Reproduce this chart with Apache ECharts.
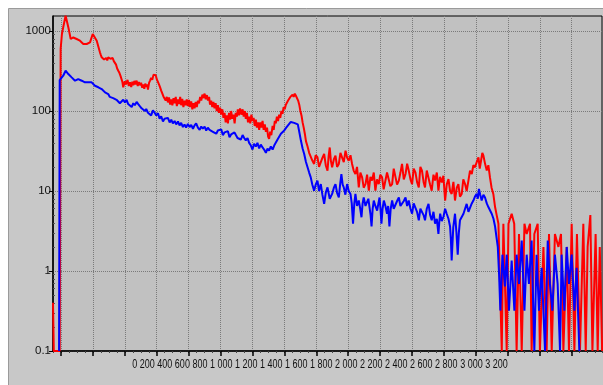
<!DOCTYPE html>
<html>
<head>
<meta charset="utf-8">
<script src="https://cdn.jsdelivr.net/npm/echarts@6/dist/echarts.min.js"></script>
<style>html,body{margin:0;padding:0;background:#fff;}#c{width:603px;height:385px;}</style>
</head>
<body>
<div id="c"></div>
<script>
// ---- data: [channel, counts] ----
const redSpectrum = [
[-50,0.4],[-45,0.1],[-8,0.1],[-2,600],[6,917],[14,1112],[29,1550],[46,1112],[61,794],[77,830],[98,794],[119,757],[140,688],[161,688],[182,721],[199,917],[209,958],[224,757],[244,541],[250,500],[255,469],[262,470],[270,440],[276,426],[283,460],[290,430],[296,469],[303,480],[310,450],[317,469],[324,460],[331,420],[338,406],[345,380],[352,340],[359,319],[366,300],[373,275],[380,263],[385,230],
[390,198],[400,235],[407,215],[417,245],[425,205],[432,228],[440,200],[447,232],[453,210],[460,238],[467,215],[474,240],[481,205],[488,230],[495,210],[502,225],[509,195],[515,215],[522,190],[528,220],[534,200],[540,215],[545,185],[552,225],[558,240],[565,260],[572,245],[580,285],[587,270],[594,280],[600,250],[607,245],[614,215],[620,200],[628,180],[635,170],[642,152],[649,155],[656,135],[663,150],[670,128],[677,148],[684,120],[691,140],[698,118],[705,145],[712,125],[719,150],[726,115],[733,140],[740,122],[747,150],[753,118],[760,142],[767,112],[775,135],[782,118],[788,140],[795,115],[802,138],[809,112],[816,132],[823,105],[830,125],[837,108],[844,130],[851,112],[858,135],[865,125],[872,150],[879,135],[886,160],[893,145],[900,165],[907,140],[914,158],[921,135],[928,150],[934,120],[941,135],[948,112],[955,130],[962,108],[969,125],[976,100],[983,118],[990,95],[997,110],[1004,90],[1011,105],[1018,82],[1025,95],[1032,72],[1039,88],[1046,70],[1053,95],[1060,78],[1066,100],[1073,80],[1081,90],[1088,70],[1095,95],[1102,85],[1108,105],[1115,88],[1122,108],[1130,90],[1138,105],[1145,85],[1152,100],[1158,80],[1165,95],[1172,72],[1179,85],[1186,70],[1193,90],[1200,75],[1207,82],[1214,65],[1221,78],[1228,62],[1235,72],[1242,58],[1249,72],[1256,62],[1263,75],[1270,58],[1277,68],[1284,55],[1291,62],[1298,48],[1304,45],[1311,55],[1318,50],[1326,65],[1333,58],[1340,75],[1346,70],[1353,85],[1360,75],[1367,90],[1374,82],[1381,100],[1388,92],[1395,112],[1402,105],[1409,120],[1416,115],[1423,135],[1430,128],[1437,150],[1444,142],[1451,160],[1458,150],[1465,165],[1472,155],[1479,158],[1486,135],[1493,120],[1500,100],[1507,88],[1514,72],[1521,62],[1528,52],[1535,42],
[1545,36],[1555,30],[1565,29],[1575,24],[1586,21.8],[1596,28],[1607,26.4],[1617,20],[1628,19.8],[1638,26],[1649,29],[1659,21],[1670,18],[1677,27],[1684,35],[1691,24],[1699,19.8],[1710,25],[1720,27.6],[1730,20],[1741,21.8],[1751,30],[1761,29],[1772,23],[1783,31.9],[1793,26],[1803,23.9],[1814,28],[1824,21.8],[1834,18],[1845,16.3],[1855,20],[1866,11.1],[1876,17],[1887,14.8],[1897,11],[1908,12.2],[1918,16],[1929,10.1],[1939,15],[1949,13.5],[1960,17],[1970,10.1],[1980,14],[1991,12.2],[2001,16],[2012,14.8],[2022,10.5],[2033,11.1],[2043,17],[2054,16.3],[2064,11.5],[2075,12.2],[2085,19],[2096,18],[2106,12],[2117,13.5],[2127,17],[2137,21.8],[2148,14],[2159,16.3],[2169,22],[2179,18],[2190,14],[2200,12.2],[2210,19],[2221,17.1],[2231,13],[2242,11.1],[2252,20],[2262,18],[2272,13],[2281,11.1],[2292,18],[2303,17.1],[2313,12],[2323,10.1],[2334,16],[2344,13.5],[2355,17],[2365,10.1],[2375,15],[2386,12.8],[2396,15.5],[2407,7.6],[2417,12],[2428,14.1],[2438,10],[2448,9.2],[2459,13],[2469,7.6],[2480,11],[2490,12.2],[2500,8.5],[2511,9.2],[2521,14],[2532,12.2],[2542,10],[2553,13.5],[2563,18],[2574,16.3],[2584,21],[2594,19.8],[2605,23],[2616,26.4],[2624,19],[2632,23.9],[2640,30],[2647,27.6],[2657,22],[2668,18],[2678,21],[2688,14.8],[2698,11],[2709,9.2],[2720,6.3],[2730,5],[2741,3.9],
[2762,0.1],[2772,3.9],[2793,0.1],[2804,3.9],[2824,5.2],[2840,3.9],[2855,0.1],[2870,2.9],[2887,0.1],[2904,3.9],[2918,2.9],[2939,3.9],[2949,0.1],[2966,2.9],[2987,3.9],[3001,0.1],[3023,2.0],[3043,0.1],[3058,2.9],[3075,0.1],[3095,2.9],[3117,2.0],[3133,2.9],[3148,0.1],[3169,2.0],[3183,0.1],[3200,3.9],[3217,0.1],[3233,2.9],[3252,0.1],[3273,3.9],[3288,0.1],[3300,2.0],[3317,5.0],[3330,0.1],[3350,2.9],[3363,0.1],[3376,2.0],[3391,0.1]
];

const blueSpectrum = [
[-12,0.1],[-8,244],[-6,251],[14,276],[29,319],[46,290],[67,263],[88,239],[108,251],[130,239],[150,228],[171,228],[192,228],[213,207],[234,198],[255,188],[276,171],
[296,163],[306,150],[317,158],[327,145],[338,150],[348,138],[359,143],[369,125],[380,130],[390,138],[401,128],[411,138],[421,122],[432,128],[443,112],[453,125],[463,118],[474,130],[484,122],[494,115],[505,108],[515,113],[526,100],[534,106],[545,95],[555,98],[565,88],[576,102],[587,95],[597,88],[608,94],[618,80],[628,86],[639,74],[649,80],[659,76],[670,82],[681,72],[691,78],[701,70],[712,75],[722,68],[733,74],[743,66],[753,71],[764,63],[774,68],[784,62],[795,69],[806,63],[816,67],[827,60],[837,66],[847,70],[858,62],[869,58],[879,64],[889,60],[900,64],[910,57],[920,62],[931,58],[941,61],[952,55],[962,58],[973,52],[983,57],[994,54],[1004,59],[1014,50],[1025,54],[1035,51],[1046,56],[1056,47],[1066,51],[1077,49],[1087,54],[1096,50],[1106,46],[1117,48],[1127,44],[1138,50],[1148,46],[1158,43],[1169,46],[1179,40],[1190,37],[1200,33],[1210,39],[1221,36],[1231,40],[1242,34],[1252,38],[1263,35],[1273,33],[1284,30],[1294,34],[1304,32],[1315,36],[1326,33],[1336,37],[1346,39],[1357,44],[1367,46],[1378,52],[1388,53],[1399,57],[1409,61],[1420,65],[1430,68],[1440,73],[1451,75],[1461,71],[1472,73],[1484,68],[1493,55],
[1503,43],[1514,34],[1524,29],[1535,23],[1545,19.8],[1555,17],[1565,14.8],[1575,12],[1586,10.1],[1596,12],[1607,13.5],[1617,10],[1628,12.2],[1638,9],[1649,6.9],[1659,9.5],[1670,11.1],[1684,8],[1699,9.2],[1710,11],[1720,12.2],[1730,9.5],[1741,8.3],[1749,12],[1757,16.3],[1765,12],[1772,11.1],[1782,9],[1793,12.2],[1803,10],[1814,9.2],[1822,7],[1830,3.9],[1838,7],[1845,9.2],[1855,6.5],[1866,7.6],[1875,6],[1883,4.7],[1890,7],[1897,8.3],[1908,6.5],[1918,6.3],[1926,8],[1933,7.6],[1940,5],[1946,3.6],[1953,6],[1960,7.6],[1970,6.5],[1981,5.7],[1989,7],[1996,8.3],[2002,6],[2008,3.9],[2015,6],[2023,7.6],[2033,6.5],[2043,5.2],[2050,6.5],[2058,3.6],[2066,6],[2075,7.6],[2085,6],[2096,6.3],[2106,7.5],[2117,8.3],[2127,6.5],[2137,6.3],[2148,7.5],[2159,8.3],[2169,6.5],[2179,7.6],[2190,6],[2200,5.2],[2210,7],[2221,6.9],[2231,5.5],[2242,4.3],[2252,6],[2262,6.3],[2272,5],[2281,4.3],[2292,6],[2303,6.9],[2313,5],[2323,4.3],[2334,5.5],[2344,3.9],[2355,4.5],[2365,2.9],[2370,4],[2376,5.2],[2386,4.2],[2397,4.8],[2407,6],[2417,5.2],[2428,4.5],[2438,3.6],[2443,2.5],[2448,1.35],[2458,3.5],[2469,5.2],[2478,3],[2486,1.6],[2493,3],[2500,4.3],[2511,4.5],[2522,5.2],[2532,6],[2542,6.9],[2553,5.5],[2563,5.7],[2574,7],[2584,7.6],[2594,8.5],[2605,9.2],[2612,8],[2619,10.6],[2627,9],[2636,7.6],[2647,9],[2657,8.3],[2668,7],[2678,6.3],[2688,6],[2699,5.2],[2710,4.5],[2720,3.6],
[2737,2.0],[2745,0.92],[2753,0.32],[2766,1.6],[2782,0.64],[2793,1.6],[2807,0.32],[2824,1.35],[2841,0.32],[2855,1.6],[2870,0.69],[2887,2.4],[2904,0.32],[2918,1.6],[2932,0.69],[2949,2.4],[2966,0.1],[2980,1.6],[2995,0.32],[3012,1.1],[3033,0.1],[3050,2.4],[3064,0.69],[3079,0.32],[3095,1.6],[3112,0.69],[3127,0.1],[3137,1.6],[3154,0.32],[3169,2.0],[3183,0.69],[3200,1.6],[3217,0.32],[3231,1.1],[3248,0.1]
];

// ---- axes ----
const xMajorTicks = [0,200,400,600,800,1000,1200,1400,1600,1800,2000,2200,2400,2600,2800,3000,3200];
const xTickText = '0 200 400 600 800 1 000 1 200 1 400 1 600 1 800 2 000 2 200 2 400 2 600 2 800 3 000 3 200';
const yTicks = [0.1, 1, 10, 100, 1000];
const yMinorTicks = [0.2,0.3,0.4,0.5,0.6,0.7,0.8,0.9,2,3,4,5,6,7,8,9,20,30,40,50,60,70,80,90,200,300,400,500,600,700,800,900];

const chart = echarts.init(document.getElementById('c'), null, {renderer:'canvas'});
const X_MIN = -50, X_MAX = 3390, Y_MIN = 0.1, Y_MAX = 1540;
chart.setOption({
  animation: false,
  backgroundColor: '#ffffff',
  grid: {left:53, right:1, top:16, bottom:34, show:true, backgroundColor:'#c1c1c1', borderColor:'#000', borderWidth:1},
  xAxis: [
    {type:'value', min:X_MIN, max:X_MAX, interval:50, position:'bottom',
     axisLine:{show:true, onZero:false, lineStyle:{color:'#000', width:1.5}},
     axisTick:{show:true, length:2, lineStyle:{color:'#444'}},
     axisLabel:{show:false}, splitLine:{show:false}},
    {type:'value', min:X_MIN, max:X_MAX, position:'bottom',
     axisLine:{show:false, onZero:false},
     axisTick:{show:true, customValues:xMajorTicks, length:5, lineStyle:{color:'#000', width:1.5}},
     axisLabel:{show:false},
     splitLine:{show:true, lineStyle:{type:'dotted', color:'#7a7a7a', width:1}}}
  ],
  yAxis: [
    {type:'log', logBase:10, min:Y_MIN, max:Y_MAX, position:'left',
     axisLine:{show:true, onZero:false, lineStyle:{color:'#000', width:1.5}},
     axisTick:{show:true, customValues:yTicks, length:4, lineStyle:{color:'#000'}},
     axisLabel:{show:true, customValues:yTicks, formatter:v=>String(v), color:'#111', fontSize:11.5, margin:2,
       fontFamily:"'Liberation Sans Narrow','Arial Narrow',sans-serif"},
     splitLine:{show:true, lineStyle:{type:'dotted', color:'#7a7a7a', width:1}}},
    {type:'log', logBase:10, min:Y_MIN, max:Y_MAX, position:'left',
     axisLine:{show:false, onZero:false},
     axisTick:{show:true, inside:true, customValues:yMinorTicks, length:2, lineStyle:{color:'#555'}},
     axisLabel:{show:false}, splitLine:{show:false}}
  ],
  series: [
    {type:'line', xAxisIndex:0, yAxisIndex:0, data:redSpectrum, showSymbol:false, symbol:'none',
     lineStyle:{color:'#ff0000', width:2}, itemStyle:{color:'#ff0000'}, clip:true},
    {type:'line', xAxisIndex:0, yAxisIndex:0, data:blueSpectrum, showSymbol:false, symbol:'none',
     lineStyle:{color:'#0000ff', width:2}, itemStyle:{color:'#0000ff'}, clip:true}
  ],
  graphic: [
    {type:'rect', z:-100, silent:true, shape:{x:8.5, y:8.5, width:600, height:380},
     style:{fill:'#c8c8c8', stroke:'#9a9a9a', lineWidth:1}},
    {type:'text', x:320, y:365, scaleX:0.72, silent:true,
     style:{text:xTickText, fill:'#111', fontSize:12.5, fontFamily:"'Liberation Sans',Arial,sans-serif",
       textAlign:'center', textVerticalAlign:'middle'}}
  ]
});
</script>
</body>
</html>
